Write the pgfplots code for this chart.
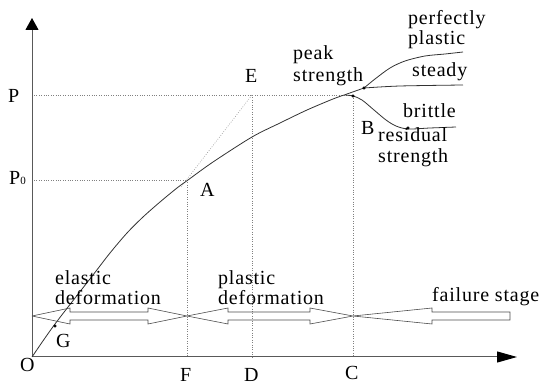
\documentclass[border=0pt]{standalone}
\usepackage{pgfplots}
\pgfplotsset{compat=1.18}
\usetikzlibrary{arrows.meta}
\usepackage{fontspec}
\setmainfont{Liberation Serif}[LetterSpace=4]
\tikzset{lab/.style={font=\fontsize{20}{23}\selectfont, inner sep=0pt, anchor=base west}}
\begin{document}
\begin{tikzpicture}
\begin{axis}[width=550pt,height=390pt,scale only axis,hide axis,
  xmin=0,xmax=550,ymin=0,ymax=390,y dir=reverse,clip=false]
% frame for bounding box
\addplot[draw=none] coordinates {(0,0) (550,390)};
% dotted guide lines
\addplot[gray, line width=0.6pt, dash pattern=on 0.8pt off 1.6pt] coordinates {(34,95) (353,95)};
\addplot[gray, line width=0.6pt, dash pattern=on 0.8pt off 1.6pt] coordinates {(34,180) (187,180)};
\addplot[gray, line width=0.6pt, dash pattern=on 0.8pt off 1.6pt] coordinates {(187,180) (187,357)};
\addplot[gray, line width=0.6pt, dash pattern=on 0.8pt off 1.6pt] coordinates {(252,95) (252,357)};
\addplot[gray, line width=0.6pt, dash pattern=on 0.8pt off 1.6pt] coordinates {(353,96) (353,357)};
\addplot[gray!80, line width=0.6pt, dash pattern=on 0.8pt off 1.6pt] coordinates {(181,187) (252,95)};
% axes
\addplot[black!65, line width=1pt, -{Triangle[length=12pt,width=13pt,color=black]}] coordinates {(32,357) (32,18)};
\addplot[black!65, line width=1pt, -{Triangle[length=20pt,width=11pt,color=black]}] coordinates {(32,357) (517,357)};
% main curve
\addplot[black!80, line width=0.8pt, smooth, tension=0.5] coordinates {
(32,357) (55,324) (93,275) (110,253) (127,233) (143,217) (160,202) (177,188) (188,180)
(213,162) (252,137) (280,123) (307,110) (333,99) (347,94) (364,88)};
% perfectly plastic
\addplot[black!80, line width=0.8pt, smooth, tension=0.5] coordinates {
(364,88) (375,79) (390,68) (405,61) (425,56) (445,54) (463,52)};
% steady
\addplot[black!80, line width=0.8pt, smooth] coordinates {(364,88) (400,86) (463,85)};
% brittle
\addplot[black!80, line width=0.8pt, smooth, tension=0.5] coordinates {
(345,95) (353,96) (362,100) (374,110) (386,120) (396,126) (408,129) (430,128) (456,127)};
% dots
\addplot[only marks, mark=*, mark size=1.3pt, black] coordinates {(55,326) (353,96) (364,88) (408,128)};
% hollow arrows
\addplot[black!70, line width=0.6pt] coordinates {
(32,316) (70,308) (70,312) (148,312) (148,308) (187,316) (148,324) (148,320) (70,320) (70,324) (32,316)};
\addplot[black!70, line width=0.6pt] coordinates {
(187,316) (228,308) (228,312) (310,312) (310,308) (353,316) (310,324) (310,320) (228,320) (228,324) (187,316)};
\addplot[black!70, line width=0.6pt] coordinates {
(353,316) (432,308) (432,312) (510,312) (510,320) (432,320) (432,324) (353,316)};
% labels
\node[lab] at (axis cs:8,103) {P};
\node[lab] at (axis cs:9,185) {P{\fontsize{11}{11}\selectfont 0}};
\node[lab] at (axis cs:20,372) {O};
\node[lab] at (axis cs:56,348) {G};
\node[lab] at (axis cs:180,382) {F};
\node[lab] at (axis cs:244,382) {D};
\node[lab] at (axis cs:345,380) {C};
\node[lab] at (axis cs:200,197) {A};
\node[lab] at (axis cs:245,83) {E};
\node[lab] at (axis cs:361,135) {B};
\node[lab] at (axis cs:408,25) {perfectly};
\node[lab] at (axis cs:408,45) {plastic};
\node[lab] at (axis cs:412,77) {steady};
\node[lab] at (axis cs:293,60) {peak};
\node[lab] at (axis cs:293,82) {strength};
\node[lab] at (axis cs:403,118) {brittle};
\node[lab] at (axis cs:378,142) {residual};
\node[lab] at (axis cs:378,163) {strength};
\node[lab] at (axis cs:55,285) {elastic};
\node[lab] at (axis cs:55,305) {deformation};
\node[lab] at (axis cs:218,285) {plastic};
\node[lab] at (axis cs:218,305) {deformation};
\node[lab] at (axis cs:432,302) {failure stage};
\end{axis}
\end{tikzpicture}
\end{document}
